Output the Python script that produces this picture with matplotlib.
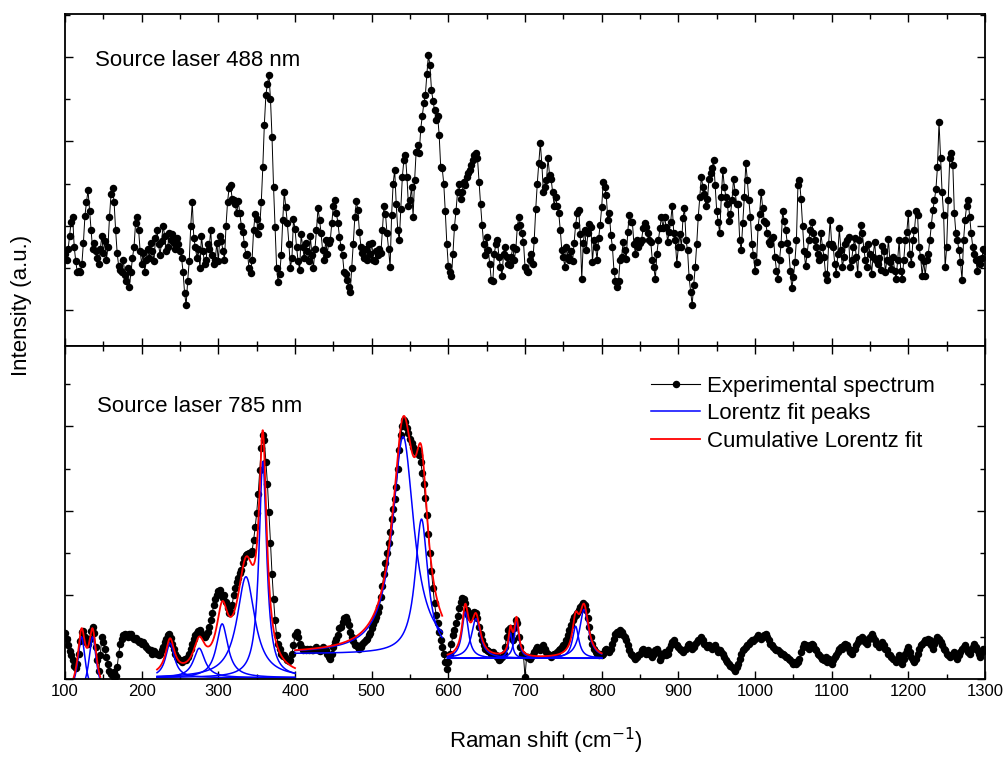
import numpy as np
import matplotlib.pyplot as plt
from matplotlib.ticker import MultipleLocator
from matplotlib.lines import Line2D

plt.rcParams['font.family'] = ['Liberation Sans', 'DejaVu Sans']

# Raman shift grid (cm-1), one point every 2 cm-1
raman_shift = np.arange(100, 1301, 2)

# spectrum recorded with the 488 nm source (a.u.)
intensity_488 = [
    67, 60, 72, 88, 105, 110, 75, 58, 45, 47,
    45, 55, 80, 112, 128, 142, 118, 95, 72, 80,
    70, 62, 55, 72, 88, 68, 82, 60, 75, 110,
    138, 145, 128, 95, 68, 52, 48, 45, 60, 42,
    35, 50, 28, 45, 62, 75, 103, 110, 95, 70,
    55, 68, 45, 60, 72, 62, 80, 70, 58, 85,
    95, 78, 65, 82, 100, 88, 70, 75, 92, 83,
    90, 80, 72, 85, 78, 70, 62, 45, 20, 6,
    35, 58, 100, 128, 85, 75, 62, 72, 50, 88,
    70, 55, 60, 78, 72, 95, 65, 55, 60, 80,
    58, 88, 82, 70, 60, 100, 128, 145, 148, 132,
    130, 126, 115, 129, 115, 100, 93, 78, 65, 67,
    50, 44, 60, 95, 114, 108, 90, 100, 128, 170,
    220, 255, 268, 279, 250, 205, 146, 99, 50, 33,
    43, 65, 107, 140, 122, 103, 79, 50, 62, 108,
    96, 75, 58, 48, 90, 75, 62, 80, 70, 58,
    88, 65, 50, 72, 95, 121, 107, 91, 71, 59,
    83, 67, 80, 83, 103, 124, 130, 115, 103, 87,
    75, 65, 45, 43, 36, 28, 22, 50, 79, 110,
    129, 119, 93, 75, 68, 62, 72, 60, 78, 66,
    80, 60, 58, 70, 65, 72, 68, 95, 124, 114,
    91, 73, 51, 113, 150, 166, 126, 95, 83, 120,
    158, 178, 184, 158, 123, 130, 146, 111, 154, 188,
    196, 186, 215, 230, 245, 255, 280, 302, 290, 261,
    248, 237, 225, 230, 208, 170, 168, 150, 117, 79,
    52, 45, 40, 67, 99, 118, 140, 150, 132, 140,
    152, 148, 158, 162, 166, 172, 178, 184, 186, 180,
    152, 126, 101, 79, 65, 87, 71, 55, 36, 34,
    67, 79, 83, 63, 51, 41, 67, 75, 63, 55,
    53, 63, 75, 60, 72, 99, 111, 101, 91, 81,
    51, 47, 45, 59, 67, 55, 83, 120, 150, 175,
    198, 172, 140, 146, 154, 180, 160, 156, 140, 124,
    134, 123, 115, 95, 71, 63, 51, 75, 63, 59,
    70, 58, 80, 101, 115, 119, 90, 37, 80, 95,
    71, 91, 102, 99, 57, 83, 75, 60, 85, 101,
    122, 152, 146, 136, 107, 115, 89, 75, 47, 35,
    28, 34, 60, 63, 81, 71, 61, 93, 113, 105,
    105, 79, 67, 83, 75, 80, 83, 97, 103, 99,
    91, 83, 81, 60, 51, 37, 67, 83, 97, 111,
    97, 111, 99, 81, 93, 105, 124, 91, 83, 55,
    75, 90, 75, 109, 121, 83, 71, 39, 22, 6,
    30, 51, 79, 111, 134, 158, 146, 138, 123, 132,
    156, 162, 168, 178, 148, 118, 105, 91, 134, 166,
    146, 134, 126, 106, 114, 130, 156, 140, 126, 126,
    83, 71, 103, 134, 174, 154, 130, 110, 79, 65,
    47, 57, 99, 114, 140, 121, 106, 103, 91, 81,
    79, 85, 87, 63, 47, 37, 60, 79, 117, 106,
    95, 80, 71, 47, 26, 39, 57, 83, 148, 154,
    132, 100, 70, 52, 67, 83, 95, 105, 91, 83,
    75, 67, 59, 91, 75, 63, 43, 36, 79, 107,
    79, 75, 55, 43, 67, 97, 71, 51, 63, 79,
    83, 87, 51, 59, 75, 85, 63, 43, 83, 101,
    91, 72, 59, 51, 79, 67, 43, 63, 81, 59,
    55, 62, 48, 76, 70, 45, 60, 84, 57, 49,
    63, 47, 37, 59, 83, 47, 37, 59, 83, 93,
    115, 67, 55, 83, 95, 117, 113, 75, 63, 41,
    58, 41, 60, 67, 83, 101, 119, 130, 144, 170,
    223, 180, 140, 113, 51, 75, 130, 180, 186, 172,
    115, 91, 83, 71, 57, 36, 83, 107, 124, 130,
    111, 91, 75, 67, 59, 47, 61, 55, 62, 73,
    70,
]

# spectrum recorded with the 785 nm source (a.u.)
intensity_785 = [
    55, 48, 40, 33, 28, 22, 16, 13, 18, 30,
    45, 56, 57, 50, 44, 42, 48, 57, 62, 55,
    38, 22, 9, 28, 50, 44, 36, 26, 18, 10,
    6, 3, 8, 4, 14, 30, 42, 48, 52, 53,
    52, 50, 54, 53, 50, 47, 49, 46, 44, 45,
    42, 44, 40, 38, 36, 35, 34, 30, 33, 31,
    30, 28, 30, 34, 38, 44, 48, 52, 53, 49,
    42, 36, 30, 26, 24, 22, 20, 22, 24, 22,
    26, 30, 36, 42, 48, 52, 55, 57, 58, 55,
    52, 50, 52, 56, 62, 70, 78, 88, 95, 100,
    104, 106, 100, 96, 100, 92, 84, 78, 80, 88,
    100, 108, 115, 120, 126, 130, 138, 144, 147, 149,
    150, 148, 152, 165, 180, 197, 220, 248, 275, 290,
    284, 258, 232, 198, 162, 125, 95, 70, 52, 42,
    36, 30, 27, 28, 25, 22, 21, 23, 30, 40,
    52, 56, 50, 42, 38, 35, 36, 34, 36, 35,
    36, 35, 34, 36, 38, 35, 33, 34, 38, 36,
    34, 30, 26, 24, 30, 38, 44, 48, 52, 60,
    62, 68, 72, 74, 70, 64, 56, 50, 45, 40,
    40, 38, 36, 38, 42, 44, 46, 48, 52, 55,
    60, 65, 70, 74, 80, 86, 98, 110, 125, 138,
    150, 162, 175, 190, 202, 214, 228, 250, 272, 290,
    300, 308, 305, 298, 292, 285, 280, 276, 272, 270,
    272, 266, 258, 245, 232, 215, 195, 172, 150, 128,
    108, 90, 76, 66, 56, 46, 38, 30, 20, 12,
    20, 30, 42, 52, 58, 66, 75, 84, 92, 96,
    95, 90, 82, 76, 74, 76, 78, 80, 78, 72,
    62, 54, 46, 40, 36, 34, 33, 32, 30, 32,
    30, 28, 26, 22, 24, 26, 30, 38, 50, 58,
    60, 52, 46, 60, 70, 66, 50, 38, 30, 28,
    2, 26, 26, 24, 26, 28, 32, 36, 38, 36,
    34, 38, 40, 36, 32, 30, 28, 26, 28, 30,
    30, 32, 34, 36, 38, 40, 42, 46, 52, 58,
    64, 70, 74, 76, 78, 82, 86, 88, 90, 88,
    82, 72, 62, 50, 42, 36, 32, 30, 28, 30,
    28, 30, 34, 36, 34, 32, 36, 42, 48, 54,
    56, 54, 58, 56, 52, 50, 46, 40, 34, 30,
    28, 26, 24, 26, 28, 30, 34, 36, 32, 30,
    34, 30, 28, 26, 30, 34, 36, 32, 22, 26,
    30, 32, 28, 30, 36, 40, 44, 46, 42, 40,
    38, 36, 34, 32, 34, 36, 40, 42, 38, 36,
    38, 42, 44, 46, 48, 50, 46, 42, 40, 38,
    40, 38, 36, 38, 40, 36, 32, 34, 32, 30,
    26, 22, 20, 18, 16, 14, 12, 10, 14, 18,
    24, 30, 34, 36, 38, 40, 42, 44, 46, 45,
    48, 50, 52, 50, 48, 50, 52, 54, 50, 46,
    42, 40, 38, 36, 34, 34, 32, 30, 30, 28,
    26, 26, 24, 22, 20, 18, 20, 18, 20, 24,
    32, 38, 42, 40, 38, 36, 40, 42, 40, 36,
    34, 30, 28, 26, 24, 22, 26, 20, 24, 22,
    18, 22, 26, 28, 32, 36, 38, 36, 40, 42,
    40, 36, 32, 30, 34, 36, 40, 44, 48, 46,
    50, 48, 44, 42, 46, 50, 54, 50, 46, 42,
    40, 38, 42, 44, 40, 36, 34, 30, 28, 26,
    24, 22, 20, 24, 28, 22, 18, 24, 30, 34,
    38, 32, 26, 22, 20, 24, 30, 36, 40, 42,
    44, 46, 44, 48, 46, 40, 36, 42, 46, 50,
    48, 44, 40, 36, 34, 30, 28, 26, 28, 30,
    32, 26, 24, 28, 32, 36, 38, 40, 36, 32,
    30, 34, 38, 42, 38, 34, 30, 26, 32, 36,
    34,
]

# Lorentz fit of the 785 nm spectrum, done in separate windows
fit_windows = [(111, 146), (220, 400), (400, 592), (599, 800)]
fit_offsets = [-20, 1.5, 30, 24.6]
peak_window = [0, 0, 1, 1, 1, 1, 1, 2, 2, 3, 3, 3, 3, 3, 3]
peak_center = [121.5, 136, 237, 275, 305, 336, 358, 541, 565, 622, 636, 681, 689, 766, 777]
peak_height = [70, 70, 41, 35, 64, 120, 257, 258, 160, 55, 47, 30, 44, 38, 58]
peak_hwhm = [6, 6, 7, 9, 9, 14, 6, 17, 10, 5, 7, 3, 3.5, 5, 7]


def lorentz(x, xc, h, w):
    return h / (1 + ((x - xc) / w) ** 2)


fig = plt.figure(figsize=(10.08, 7.59), dpi=100)
ax_top = fig.add_axes([0.0645, 0.5435, 0.9127, 0.4381])
ax_bot = fig.add_axes([0.0645, 0.1054, 0.9127, 0.4381])

for ax in (ax_top, ax_bot):
    ax.set_xlim(100, 1300)
    ax.xaxis.set_major_locator(MultipleLocator(100))
    ax.xaxis.set_minor_locator(MultipleLocator(50))
    ax.yaxis.set_major_locator(MultipleLocator(100))
    ax.yaxis.set_minor_locator(MultipleLocator(50))
    ax.tick_params(which='both', direction='in', top=True, right=True,
                   labelleft=False, width=1.0, labelsize=12)
    ax.tick_params(which='major', length=6)
    ax.tick_params(which='minor', length=3.5)
    for sp in ax.spines.values():
        sp.set_linewidth(1.3)

ax_top.tick_params(labelbottom=False)
ax_top.set_ylim(-43, 351)
ax_bot.set_ylim(0, 395)

ax_top.plot(raman_shift, intensity_488, '-o', color='black', lw=0.7, ms=5.4, mew=0)
ax_bot.plot(raman_shift, intensity_785, '-o', color='black', lw=0.7, ms=5.4, mew=0)

for i, (lo, hi) in enumerate(fit_windows):
    xs = np.linspace(lo, hi, 600)
    total = np.full_like(xs, fit_offsets[i])
    for k, xc, h, w in zip(peak_window, peak_center, peak_height, peak_hwhm):
        if k != i:
            continue
        comp = lorentz(xs, xc, h, w)
        ax_bot.plot(xs, fit_offsets[i] + comp, color='blue', lw=1.1)
        total += comp
    ax_bot.plot(xs, total, color='red', lw=1.3)

ax_top.text(0.0326, 0.861, 'Source laser 488 nm', transform=ax_top.transAxes,
            fontsize=16, va='center', ha='left')
ax_bot.text(0.0345, 0.819, 'Source laser 785 nm', transform=ax_bot.transAxes,
            fontsize=16, va='center', ha='left')

handles = [
    Line2D([], [], color='black', lw=0.8, marker='o', ms=5.4, mew=0),
    Line2D([], [], color='blue', lw=1.1),
    Line2D([], [], color='red', lw=1.3),
]
labels = ['Experimental spectrum', 'Lorentz fit peaks', 'Cumulative Lorentz fit']
ax_bot.legend(handles, labels, loc='upper left', bbox_to_anchor=(0.637, 0.912),
              frameon=False, fontsize=16, handlelength=2.2, handletextpad=0.3,
              labelspacing=0.29, borderpad=0, borderaxespad=0)

fig.text(0.5417, 0.024, 'Raman shift (cm$^{-1}$)', fontsize=16, ha='center', va='center')
fig.text(0.0218, 0.597, 'Intensity (a.u.)', fontsize=16, rotation=90,
         ha='center', va='center')

fig.savefig('out.png', dpi=100)
